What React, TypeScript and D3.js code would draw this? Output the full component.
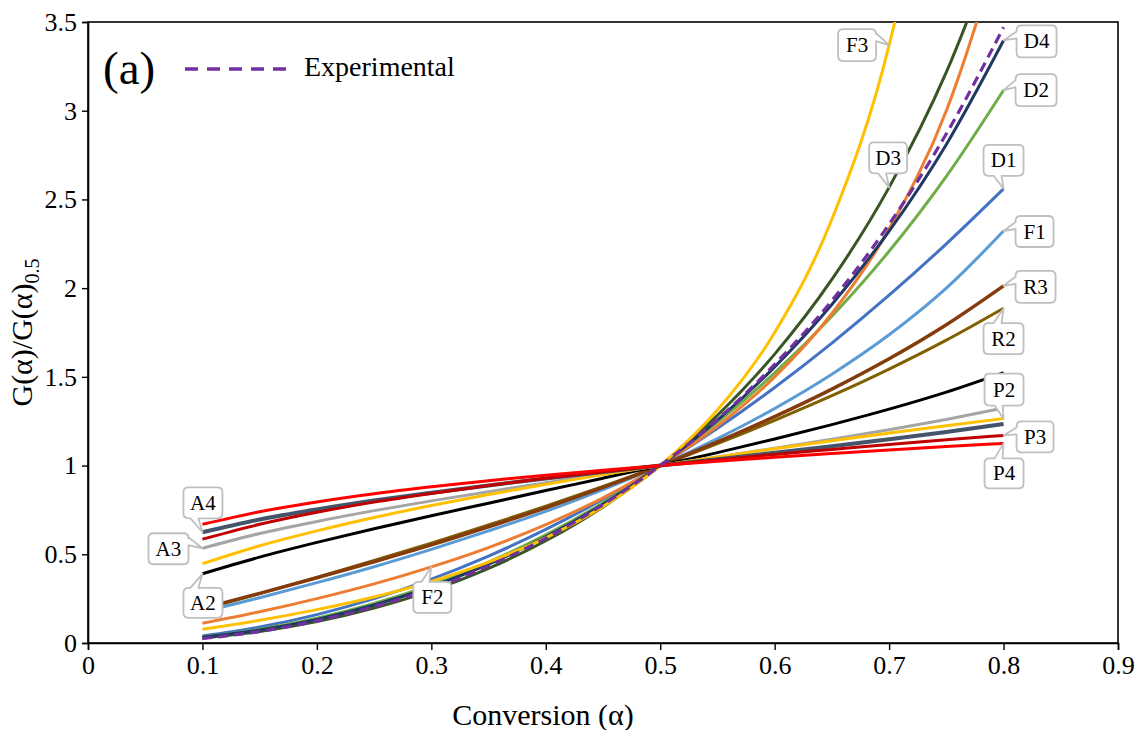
import { useEffect, useRef } from 'react'
import * as d3 from 'd3'

// conversion steps
const alpha = [0.1, 0.15, 0.2, 0.25, 0.3, 0.35, 0.4, 0.45, 0.5, 0.55, 0.6, 0.65, 0.7, 0.75, 0.8]

// G(a)/G(a)0.5
const D1 = [0.04, 0.09, 0.16, 0.25, 0.36, 0.49, 0.64, 0.81, 1, 1.21, 1.44, 1.69, 1.96, 2.25, 2.56]
const D2 = [0.034, 0.077, 0.14, 0.223, 0.328, 0.456, 0.609, 0.79, 1, 1.243, 1.522, 1.842, 2.208, 2.63, 3.116]
const D3 = [0.028, 0.065, 0.121, 0.197, 0.295, 0.42, 0.576, 0.767, 1, 1.283, 1.628, 2.049, 2.568, 3.217, 4.05]
const D4 = [0.032, 0.073, 0.133, 0.214, 0.317, 0.444, 0.598, 0.782, 1, 1.256, 1.556, 1.908, 2.321, 2.81, 3.396]
const F1 = [0.175, 0.255, 0.34, 0.43, 0.528, 0.632, 0.742, 0.865, 1, 1.152, 1.322, 1.515, 1.737, 2.0, 2.322]
const F2 = [0.111, 0.176, 0.25, 0.333, 0.429, 0.538, 0.667, 0.818, 1, 1.222, 1.5, 1.857, 2.333, 3.0, 4.0]
const F3 = [0.078, 0.128, 0.188, 0.259, 0.347, 0.456, 0.593, 0.769, 1, 1.313, 1.75, 2.388, 3.37, 5.0, 8.0]
const R2 = [0.19, 0.278, 0.37, 0.465, 0.563, 0.665, 0.771, 0.883, 1, 1.124, 1.255, 1.394, 1.544, 1.707, 1.887]
const R3 = [0.195, 0.28, 0.368, 0.458, 0.553, 0.655, 0.762, 0.877, 1, 1.133, 1.276, 1.431, 1.602, 1.794, 2.013]
const A2 = [0.39, 0.484, 0.567, 0.644, 0.717, 0.788, 0.859, 0.929, 1, 1.073, 1.15, 1.231, 1.318, 1.414, 1.524]
const A3 = [0.534, 0.617, 0.685, 0.746, 0.801, 0.853, 0.903, 0.952, 1, 1.048, 1.098, 1.148, 1.202, 1.26, 1.324]
const A4 = [0.624, 0.696, 0.753, 0.803, 0.847, 0.888, 0.927, 0.964, 1, 1.036, 1.072, 1.109, 1.148, 1.189, 1.234]
const P2 = [0.447, 0.548, 0.632, 0.707, 0.775, 0.837, 0.894, 0.949, 1, 1.049, 1.095, 1.14, 1.183, 1.225, 1.265]
const P3 = [0.585, 0.669, 0.737, 0.794, 0.843, 0.888, 0.928, 0.965, 1, 1.032, 1.063, 1.091, 1.119, 1.145, 1.17]
const P4 = [0.669, 0.74, 0.795, 0.841, 0.88, 0.915, 0.946, 0.974, 1, 1.024, 1.047, 1.068, 1.088, 1.107, 1.125]
const Experimental = [0.025, 0.065, 0.125, 0.205, 0.305, 0.435, 0.59, 0.78, 1, 1.26, 1.57, 1.93, 2.36, 2.87, 3.47]

const xTicks = [0, 0.1, 0.2, 0.3, 0.4, 0.5, 0.6, 0.7, 0.8, 0.9]
const yTicks = [0, 0.5, 1, 1.5, 2, 2.5, 3, 3.5]

const series = [
  { name: 'D1', values: D1, color: '#4472C4', width: 3 },
  { name: 'D2', values: D2, color: '#70AD47', width: 3 },
  { name: 'D3', values: D3, color: '#375623', width: 3 },
  { name: 'F2', values: F2, color: '#ED7D31', width: 3 },
  { name: 'D4', values: D4, color: '#1F3864', width: 3 },
  { name: 'F3', values: F3, color: '#FFC000', width: 3 },
  { name: 'F1', values: F1, color: '#5B9BD5', width: 3 },
  { name: 'R2', values: R2, color: '#806000', width: 3 },
  { name: 'R3', values: R3, color: '#843C0C', width: 3.5 },
  { name: 'A2', values: A2, color: '#000000', width: 3 },
  { name: 'A3', values: A3, color: '#A5A5A5', width: 3 },
  { name: 'P2', values: P2, color: '#FFC000', width: 3 },
  { name: 'A4', values: A4, color: '#44546A', width: 4 },
  { name: 'P3', values: P3, color: '#C00000', width: 3 },
  { name: 'P4', values: P4, color: '#FF0000', width: 3 },
  { name: 'Experimental', values: Experimental, color: '#7030A0', width: 3.2, dash: '10,6' }
]

// which point each callout points at
const callouts = [
  { text: 'F3', series: 'F3', at: 0.7 },
  { text: 'D4', series: 'D4', at: 0.8 },
  { text: 'D2', series: 'D2', at: 0.8 },
  { text: 'D3', series: 'D3', at: 0.7 },
  { text: 'D1', series: 'D1', at: 0.8 },
  { text: 'F1', series: 'F1', at: 0.8 },
  { text: 'R3', series: 'R3', at: 0.8 },
  { text: 'R2', series: 'R2', at: 0.8 },
  { text: 'P2', series: 'P2', at: 0.8 },
  { text: 'P3', series: 'P3', at: 0.8 },
  { text: 'P4', series: 'P4', at: 0.8 },
  { text: 'A4', series: 'A4', at: 0.1 },
  { text: 'A3', series: 'A3', at: 0.1 },
  { text: 'A2', series: 'A2', at: 0.1 },
  { text: 'F2', series: 'F2', at: 0.3 }
]

// box placement relative to the tip
const boxLayout = {
  F3: { dx: -51, dy: -16, w: 38, h: 32, side: 'right', b: [4, 12] },
  D4: { dx: 13, dy: -15, w: 40, h: 32, side: 'left', b: [6, 13] },
  D2: { dx: 12, dy: -16, w: 41, h: 32, side: 'left', b: [6, 13] },
  D3: { dx: -20, dy: -45, w: 38, h: 31, side: 'bottom', b: [9, 17] },
  D1: { dx: -20, dy: -44, w: 40, h: 31, side: 'bottom', b: [10, 18] },
  F1: { dx: 12, dy: -15, w: 38, h: 31, side: 'left', b: [6, 13] },
  R3: { dx: 12, dy: -15, w: 40, h: 32, side: 'left', b: [6, 13] },
  R2: { dx: -20, dy: 15, w: 40, h: 31, side: 'top', b: [10, 18] },
  P2: { dx: -19, dy: -45, w: 39, h: 32, side: 'bottom', b: [10, 18] },
  P3: { dx: 13, dy: -14, w: 37, h: 31, side: 'left', b: [6, 13] },
  P4: { dx: -19, dy: 15, w: 39, h: 30, side: 'top', b: [10, 18] },
  A4: { dx: -19, dy: -45, w: 39, h: 31, side: 'bottom', b: [7, 15] },
  A3: { dx: -54, dy: -15, w: 40, h: 31, side: 'right', b: [4, 12] },
  A2: { dx: -19, dy: 14, w: 39, h: 30, side: 'top', b: [7, 15] },
  F2: { dx: -18, dy: 15, w: 38, h: 31, side: 'top', b: [8, 16] }
}

const FONT = 'Liberation Serif'

function calloutPath(x, y, w, h, r, side, b0, b1, tx, ty) {
  let p = `M${x + r},${y}`
  if (side === 'top') p += `L${x + b0},${y}L${tx},${ty}L${x + b1},${y}`
  p += `L${x + w - r},${y}Q${x + w},${y} ${x + w},${y + r}`
  if (side === 'right') p += `L${x + w},${y + b0}L${tx},${ty}L${x + w},${y + b1}`
  p += `L${x + w},${y + h - r}Q${x + w},${y + h} ${x + w - r},${y + h}`
  if (side === 'bottom') p += `L${x + b1},${y + h}L${tx},${ty}L${x + b0},${y + h}`
  p += `L${x + r},${y + h}Q${x},${y + h} ${x},${y + h - r}`
  if (side === 'left') p += `L${x},${y + b1}L${tx},${ty}L${x},${y + b0}`
  p += `L${x},${y + r}Q${x},${y} ${x + r},${y}Z`
  return p
}

export default function App() {
  const ref = useRef(null)

  useEffect(() => {
    const root = d3.select(ref.current)
    root.selectAll('*').remove()

    const W = 1135
    const H = 730
    const left = 88, right = 1118, top = 22, bottom = 643

    const svg = root.append('svg')
      .attr('width', W)
      .attr('height', H)
      .style('position', 'absolute')
      .style('left', '0px')
      .style('top', '0px')
      .style('background', '#fff')

    const x = d3.scaleLinear().domain([0, 0.9]).range([left, right])
    const y = d3.scaleLinear().domain([0, 3.5]).range([bottom, top])

    svg.append('defs').append('clipPath').attr('id', 'plot-clip')
      .append('rect')
      .attr('x', left).attr('y', top)
      .attr('width', right - left).attr('height', bottom - top)

    // frame
    svg.append('rect')
      .attr('x', left).attr('y', top)
      .attr('width', right - left).attr('height', bottom - top)
      .attr('fill', 'none').attr('stroke', '#000').attr('stroke-width', 1.6)

    // axes
    const xAxis = svg.append('g')
      .attr('transform', `translate(0,${bottom})`)
      .call(d3.axisBottom(x).tickValues(xTicks).tickSize(7).tickPadding(6).tickFormat(d3.format('')))
    const yAxis = svg.append('g')
      .attr('transform', `translate(${left},0)`)
      .call(d3.axisLeft(y).tickValues(yTicks).tickSize(6).tickPadding(5).tickFormat(d3.format('')))

    for (const g of [xAxis, yAxis]) {
      g.attr('font-family', FONT).attr('font-size', 26)
      g.select('.domain').attr('stroke', '#000').attr('stroke-width', 1.6)
      g.selectAll('.tick line').attr('stroke', '#000').attr('stroke-width', 1.4)
      g.selectAll('.tick text').attr('fill', '#000')
    }

    // lines
    const line = d3.line()
      .x((d) => x(d[0]))
      .y((d) => y(d[1]))
      .curve(d3.curveMonotoneX)

    const lines = svg.append('g').attr('clip-path', 'url(#plot-clip)')
    series.forEach((s) => {
      lines.append('path')
        .datum(alpha.map((a, i) => [a, s.values[i]]))
        .attr('d', line)
        .attr('fill', 'none')
        .attr('stroke', s.color)
        .attr('stroke-width', s.width)
        .attr('stroke-dasharray', s.dash || null)
        .attr('stroke-linejoin', 'round')
    })

    // data callouts
    const cg = svg.append('g')
    callouts.forEach((c) => {
      const s = series.find((d) => d.name === c.series)
      const i = alpha.findIndex((a) => Math.abs(a - c.at) < 1e-6)
      const tx = x(alpha[i])
      const ty = y(s.values[i])
      const b = boxLayout[c.text]
      const bx = tx + b.dx
      const by = ty + b.dy
      cg.append('path')
        .attr('d', calloutPath(bx, by, b.w, b.h, 5, b.side, b.b[0], b.b[1], tx, ty))
        .attr('fill', '#fff')
        .attr('stroke', '#BFBFBF')
        .attr('stroke-width', 1.8)
        .attr('stroke-linejoin', 'round')
      cg.append('text')
        .attr('x', bx + b.w / 2)
        .attr('y', by + b.h / 2 + 7)
        .attr('text-anchor', 'middle')
        .attr('font-family', FONT)
        .attr('font-size', 21)
        .attr('fill', '#000')
        .text(c.text)
    })

    // panel tag and legend
    svg.append('text')
      .attr('x', 103).attr('y', 84)
      .attr('font-family', FONT)
      .attr('font-size', 47)
      .text('(a)')
    svg.append('line')
      .attr('x1', 185).attr('x2', 294).attr('y1', 69).attr('y2', 69)
      .attr('stroke', '#7030A0').attr('stroke-width', 3.5)
      .attr('stroke-dasharray', '13,9')
    svg.append('text')
      .attr('x', 304).attr('y', 76)
      .attr('font-family', FONT)
      .attr('font-size', 28)
      .text('Experimental')

    // axis titles
    svg.append('text')
      .attr('x', 543).attr('y', 725)
      .attr('text-anchor', 'middle')
      .attr('font-family', FONT)
      .attr('font-size', 30)
      .text('Conversion (α)')

    const yt = svg.append('text')
      .attr('transform', `translate(32,${(top + bottom) / 2}) rotate(-90)`)
      .attr('text-anchor', 'middle')
      .attr('font-family', FONT)
      .attr('font-size', 30)
    yt.append('tspan').text('G(α)/G(α)')
    yt.append('tspan').attr('dy', 7).attr('font-size', 20).text('0.5')
  }, [])

  return <div ref={ref}></div>
}
